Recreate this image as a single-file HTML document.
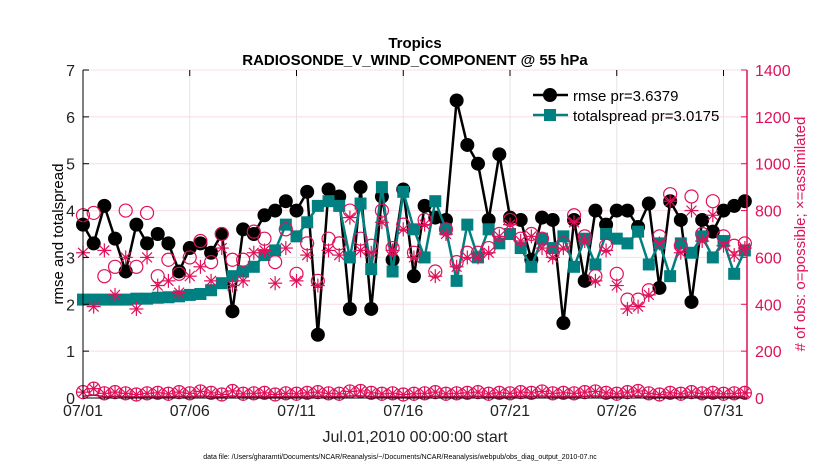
<!DOCTYPE html>
<html><head><meta charset="utf-8"><style>
body{margin:0;background:#fff;}
svg{display:block;font-family:"Liberation Sans",sans-serif;}
</style></head><body>
<svg id="chart" width="830" height="470">
<text x="415" y="48" text-anchor="middle" font-size="15" font-weight="bold">Tropics</text>
<text x="415" y="65" text-anchor="middle" font-size="15" font-weight="bold">RADIOSONDE_V_WIND_COMPONENT @ 55 hPa</text>
<text transform="translate(63,234) rotate(-90)" text-anchor="middle" font-size="15">rmse and totalspread</text>
<text transform="translate(805,234) rotate(-90)" text-anchor="middle" font-size="15" fill="#e0105a"># of obs: o=possible; ×=assimilated</text>
<text x="415" y="442" text-anchor="middle" font-size="16" fill="#222">Jul.01,2010 00:00:00 start</text>
<text x="400" y="459" text-anchor="middle" font-size="7">data file: /Users/gharamti/Documents/NCAR/Reanalysis/~/Documents/NCAR/Reanalysis/webpub/obs_diag_output_2010-07.nc</text>
<g id="grid"></g><g id="marks"></g><g id="axes"></g>
<g>
<line x1="533" y1="95" x2="568" y2="95" stroke="#000" stroke-width="2.5"/>
<circle cx="550" cy="95" r="7" fill="#000"/>
<text x="573" y="101" font-size="15">rmse pr=3.6379</text>
<line x1="533" y1="115" x2="568" y2="115" stroke="#008080" stroke-width="2.5"/>
<rect x="544" y="109" width="12" height="12" fill="#008080"/>
<text x="573" y="121" font-size="15">totalspread pr=3.0175</text>
</g>
</svg>
<script>
const times=[0,0.5,1,1.5,2,2.5,3,3.5,4,4.5,5,5.5,6,6.5,7,7.5,8,8.5,9,9.5,10,10.5,11,11.5,12,12.5,13,13.5,14,14.5,15,15.5,16,16.5,17,17.5,18,18.5,19,19.5,20,20.5,21,21.5,22,22.5,23,23.5,24,24.5,25,25.5,26,26.5,27,27.5,28,28.5,29,29.5,30,30.5,31];
const rmse=[3.7,3.3,4.1,3.4,2.7,3.7,3.3,3.5,3.3,2.7,3.2,3.3,3.1,3.5,1.85,3.6,3.5,3.9,4.0,4.2,4.0,4.4,1.35,4.45,4.3,1.9,4.5,1.9,4.3,2.95,4.45,2.6,4.1,3.85,3.8,6.35,5.4,5.0,3.8,5.2,3.85,3.8,2.95,3.85,3.8,1.6,3.8,2.5,4.0,3.7,4.0,4.0,3.65,4.15,2.35,4.2,3.8,2.05,3.8,3.55,4.0,4.1,4.2];
const spread=[2.1,2.1,2.1,2.1,2.1,2.12,2.12,2.14,2.15,2.17,2.2,2.22,2.3,2.45,2.6,2.7,2.8,3.05,3.15,3.7,3.45,3.75,4.1,4.2,4.1,3.0,4.15,2.75,4.5,2.7,4.4,3.6,3.0,4.2,3.6,2.5,3.7,3.0,3.6,3.3,3.5,3.2,2.8,3.4,3.2,3.45,2.8,3.4,2.85,3.5,3.4,3.3,3.55,2.85,3.3,2.6,3.3,3.1,3.45,3.0,3.35,2.65,3.15];
const obsPossible=[780,790,520,560,800,560,790,520,590,530,600,670,580,700,590,590,710,680,580,720,530,660,500,680,660,800,680,650,800,640,740,620,760,540,720,580,620,620,640,700,760,680,700,680,620,660,780,690,520,650,530,420,420,460,690,870,650,860,700,840,690,650,660];
const obsAssim=[620,390,630,440,600,380,600,480,500,450,520,560,500,640,480,500,620,630,490,640,500,610,480,630,610,770,630,620,750,630,720,600,740,520,700,560,600,600,620,690,740,670,690,640,600,640,750,670,500,630,480,380,390,440,660,840,620,800,670,780,650,610,640];
const obsLow=[25,40,20,25,20,15,20,22,18,25,20,28,22,15,30,18,20,22,15,20,18,22,25,20,18,28,30,22,18,20,15,18,20,25,18,20,22,25,18,22,20,25,22,28,20,22,20,25,28,22,18,25,30,20,15,22,18,25,20,22,18,20,22];
const xTicks=[0,5,10,15,20,25,30];
const xTickLabels=["07/01","07/06","07/11","07/16","07/21","07/26","07/31"];
const yTicks=[0,1,2,3,4,5,6,7];
const y2Ticks=[0,200,400,600,800,1000,1200,1400];

const L=83,R=747,T=70,B=398,TMAX=31.1;
const X=t=>L+(R-L)*t/TMAX;
const Y=v=>B-(B-T)*v/7;
const Y2=v=>B-(B-T)*v/1400;
const NS="http://www.w3.org/2000/svg";
function mk(tag,parent,attrs){const e=document.createElementNS(NS,tag);for(const k in attrs)e.setAttribute(k,attrs[k]);parent.appendChild(e);return e;}
const grid=document.getElementById('grid'),marks=document.getElementById('marks'),axes=document.getElementById('axes');

xTicks.forEach((t,i)=>{
  const g=mk('line',grid,{x1:X(t),x2:X(t),y1:T,y2:B,stroke:'#e4e4e4','stroke-width':1});
  
  
  const tx=mk('text',axes,{x:X(t),y:B+18,'text-anchor':'middle','font-size':16,fill:'#222'});
  tx.textContent=xTickLabels[i];
  
  
  mk('line',axes,{x1:X(t),x2:X(t),y1:T,y2:T+6,stroke:'#000'});
});
yTicks.forEach(v=>{
  const g=mk('line',grid,{x1:L,x2:R,y1:Y(v),y2:Y(v),stroke:'#f9dce7','stroke-width':1});
  
  
  const tx=mk('text',axes,{x:L-8,y:Y(v)+6,'text-anchor':'end','font-size':16,fill:'#222'});
  tx.textContent=v;
  
  
  mk('line',axes,{x1:L,x2:L+6,y1:Y(v),y2:Y(v),stroke:'#000'});
});
y2Ticks.forEach(v=>{
  const tx=mk('text',axes,{x:R+8,y:Y2(v)+6,'text-anchor':'start','font-size':16,fill:'#e0105a'});
  tx.textContent=v;
  
  
  mk('line',axes,{x1:R-6,x2:R,y1:Y2(v),y2:Y2(v),stroke:'#e0105a'});
});
const ax1=mk('line',axes,{x1:L,x2:L,y1:T,y2:B,stroke:'#000'});


const ax2=mk('line',axes,{x1:R,x2:R,y1:T,y2:B,stroke:'#e0105a','stroke-width':1.5});


const ax3=mk('line',axes,{x1:L,x2:R,y1:B,y2:B,stroke:'#000'});



function star(x,y,c){
  const r=7,g=mk('g',marks,{stroke:c,'stroke-width':1.2});
  
  
  for(let k=0;k<4;k++){const a=k*Math.PI/4;mk('line',g,{x1:x-r*Math.cos(a),y1:y-r*Math.sin(a),x2:x+r*Math.cos(a),y2:y+r*Math.sin(a)});}
}
times.forEach((t,i)=>{
  const c=mk('circle',marks,{cx:X(t),cy:Y2(obsLow[i]),r:6.5,fill:'none',stroke:'#e0105a','stroke-width':1.2});
  
  
  star(X(t),Y2(obsLow[i]),'#e0105a');
});
const lowLine=mk('polyline',marks,{points:times.map((t,i)=>X(t)+','+Y2(obsLow[i]*0.3)).join(' '),fill:'none',stroke:'#b0104a','stroke-width':1.5});


const rl=mk('polyline',marks,{points:times.map((t,i)=>X(t)+','+Y(rmse[i])).join(' '),fill:'none',stroke:'#000','stroke-width':2.5});


times.forEach((t,i)=>{
  const c=mk('circle',marks,{cx:X(t),cy:Y(rmse[i]),r:7,fill:'#000'});
  
  
});
const sl=mk('polyline',marks,{points:times.map((t,i)=>X(t)+','+Y(spread[i])).join(' '),fill:'none',stroke:'#008080','stroke-width':2.5});


times.forEach((t,i)=>{
  const s=mk('rect',marks,{x:X(t)-6,y:Y(spread[i])-6,width:12,height:12,fill:'#008080'});
  
  
});
times.forEach((t,i)=>{
  const c=mk('circle',marks,{cx:X(t),cy:Y2(obsPossible[i]),r:6.5,fill:'none',stroke:'#e0105a','stroke-width':1.2});
  
  
  star(X(t),Y2(obsAssim[i]),'#e0105a');
});
</script>
</body></html>
